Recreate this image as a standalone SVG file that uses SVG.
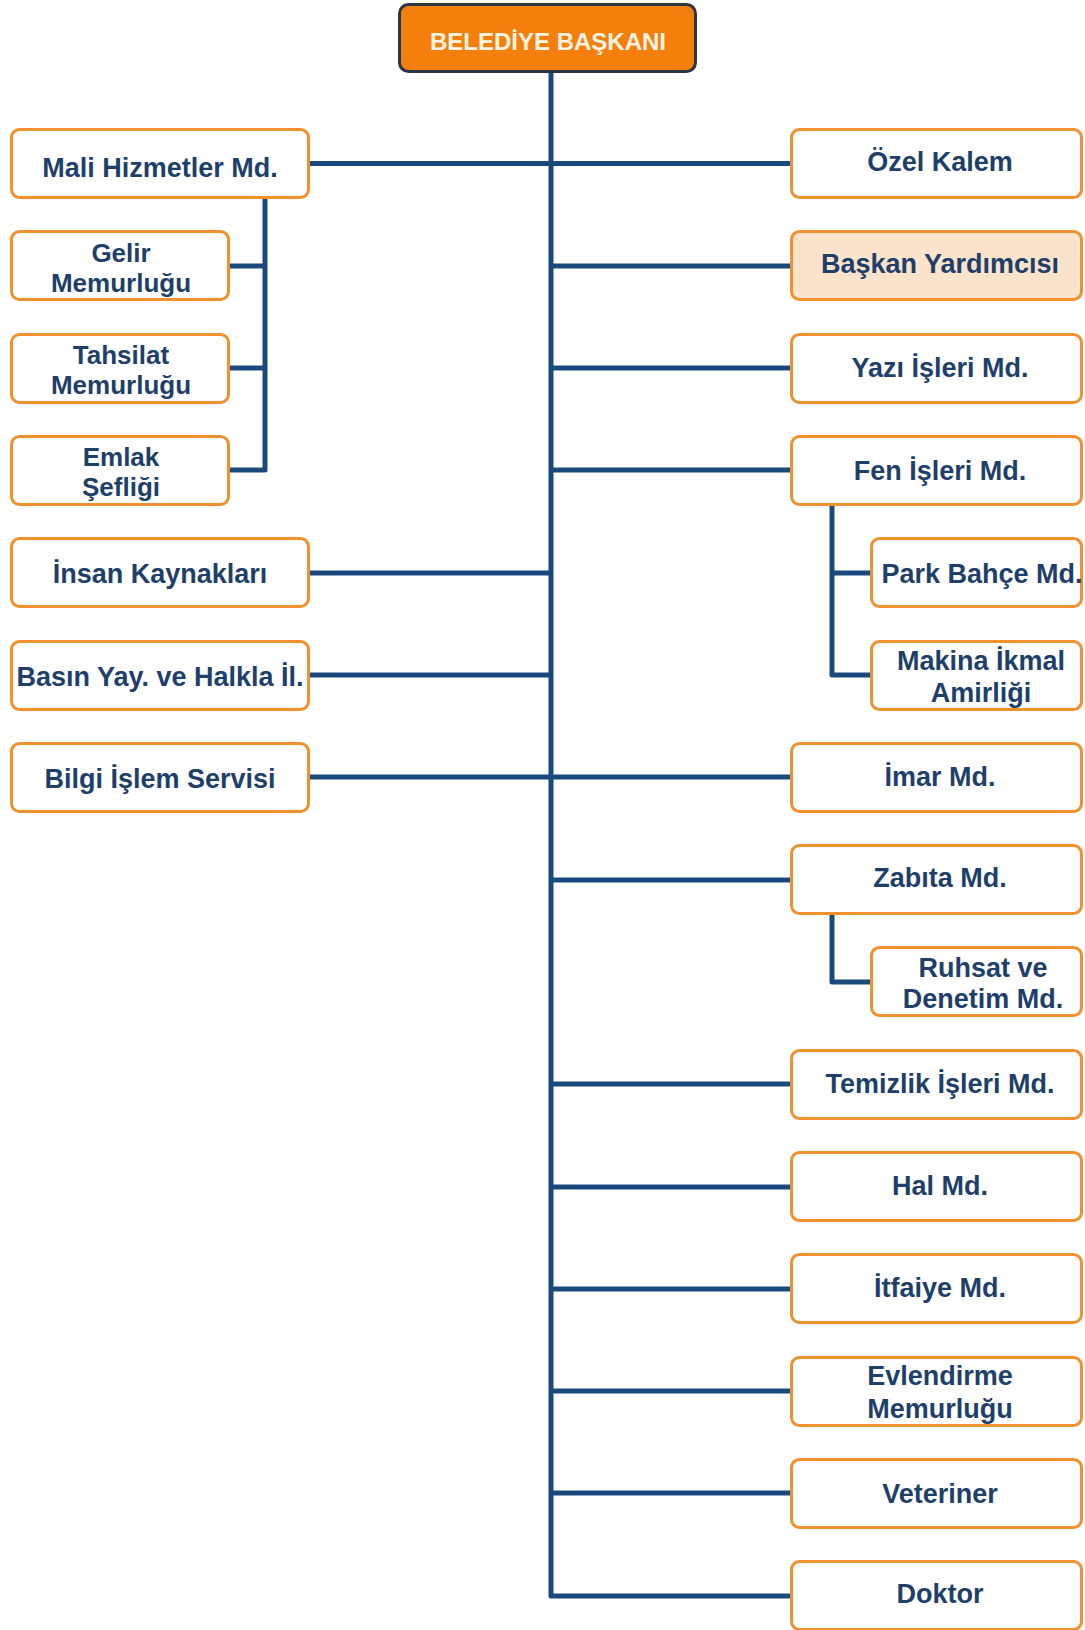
<svg xmlns="http://www.w3.org/2000/svg" width="1085" height="1630" viewBox="0 0 1085 1630">
<style>
.box{fill:#FFFFFF;stroke:#F0902E;stroke-width:3}
.hl{fill:#FCE3CB}
.t{font-family:"Liberation Sans",Arial,sans-serif;font-weight:bold;font-size:27px;fill:#1E3F69;text-anchor:middle}
.s{font-size:26px}
.conn{stroke:#1A4A7C;stroke-width:5;fill:none;stroke-linejoin:round}
.top rect{fill:#F57F0C;stroke:#2A3645;stroke-width:3}
.top text{font-family:"Liberation Sans",Arial,sans-serif;font-weight:bold;font-size:24px;fill:#FFF4E2;text-anchor:middle}
</style>
<rect x="0" y="0" width="1085" height="1630" fill="#FFFFFF"/>
<g id="connectors">
<path class="conn" d="M551,73 V1596 H790"/>
<path class="conn" d="M310,163.5 H790"/>
<path class="conn" d="M310,777 H790"/>
<path class="conn" d="M310,573 H551"/>
<path class="conn" d="M310,675 H551"/>
<path class="conn" d="M551,266 H790"/>
<path class="conn" d="M551,368 H790"/>
<path class="conn" d="M551,470 H790"/>
<path class="conn" d="M551,880 H790"/>
<path class="conn" d="M551,1084 H790"/>
<path class="conn" d="M551,1187 H790"/>
<path class="conn" d="M551,1289 H790"/>
<path class="conn" d="M551,1391 H790"/>
<path class="conn" d="M551,1493 H790"/>
<path class="conn" d="M265,199 V470 H230"/>
<path class="conn" d="M230,266 H265"/>
<path class="conn" d="M230,368 H265"/>
<path class="conn" d="M832,506 V675 H870"/>
<path class="conn" d="M832,573 H870"/>
<path class="conn" d="M832,915 V982 H870"/>
</g>
<g id="belediye-baskani" class="top">
<rect x="399.5" y="4.5" width="296" height="67" rx="9"/>
<text x="548" y="50">BELEDİYE BAŞKANI</text>
</g>
<g id="mali-hizmetler">
<rect class="box" x="11.5" y="129.5" width="297" height="68" rx="8"/>
<text class="t" x="160" y="177">Mali Hizmetler Md.</text>
</g>
<g id="gelir-memurlugu">
<rect class="box" x="11.5" y="231.5" width="217" height="68" rx="8"/>
<text class="t s" x="121" y="262">Gelir</text>
<text class="t s" x="121" y="292">Memurluğu</text>
</g>
<g id="tahsilat-memurlugu">
<rect class="box" x="11.5" y="334.5" width="217" height="68" rx="8"/>
<text class="t s" x="121" y="364">Tahsilat</text>
<text class="t s" x="121" y="394">Memurluğu</text>
</g>
<g id="emlak-sefligi">
<rect class="box" x="11.5" y="436.5" width="217" height="68" rx="8"/>
<text class="t s" x="121" y="466">Emlak</text>
<text class="t s" x="121" y="496">Şefliği</text>
</g>
<g id="insan-kaynaklari">
<rect class="box" x="11.5" y="538.5" width="297" height="68" rx="8"/>
<text class="t" x="160" y="583">İnsan Kaynakları</text>
</g>
<g id="basin-yayin">
<rect class="box" x="11.5" y="641.5" width="297" height="68" rx="8"/>
<text class="t" x="160" y="686">Basın Yay. ve Halkla İl.</text>
</g>
<g id="bilgi-islem">
<rect class="box" x="11.5" y="743.5" width="297" height="68" rx="8"/>
<text class="t" x="160" y="788">Bilgi İşlem Servisi</text>
</g>
<g id="ozel-kalem">
<rect class="box" x="791.5" y="129.5" width="290" height="68" rx="8"/>
<text class="t" x="940" y="171">Özel Kalem</text>
</g>
<g id="baskan-yardimcisi">
<rect class="box hl" x="791.5" y="231.5" width="290" height="68" rx="8"/>
<text class="t" x="940" y="273">Başkan Yardımcısı</text>
</g>
<g id="yazi-isleri">
<rect class="box" x="791.5" y="334.5" width="290" height="68" rx="8"/>
<text class="t" x="940" y="377">Yazı İşleri Md.</text>
</g>
<g id="fen-isleri">
<rect class="box" x="791.5" y="436.5" width="290" height="68" rx="8"/>
<text class="t" x="940" y="480">Fen İşleri Md.</text>
</g>
<g id="park-bahce">
<rect class="box" x="871.5" y="538.5" width="210" height="68" rx="8"/>
<text class="t" x="982" y="583">Park Bahçe Md.</text>
</g>
<g id="makina-ikmal">
<rect class="box" x="871.5" y="641.5" width="210" height="68" rx="8"/>
<text class="t" x="981" y="670">Makina İkmal</text>
<text class="t" x="981" y="702">Amirliği</text>
</g>
<g id="imar">
<rect class="box" x="791.5" y="743.5" width="290" height="68" rx="8"/>
<text class="t" x="940" y="786">İmar Md.</text>
</g>
<g id="zabita">
<rect class="box" x="791.5" y="845.5" width="290" height="68" rx="8"/>
<text class="t" x="940" y="887">Zabıta Md.</text>
</g>
<g id="ruhsat-denetim">
<rect class="box" x="871.5" y="947.5" width="210" height="68" rx="8"/>
<text class="t" x="983" y="977">Ruhsat ve</text>
<text class="t" x="983" y="1008">Denetim Md.</text>
</g>
<g id="temizlik-isleri">
<rect class="box" x="791.5" y="1050.5" width="290" height="68" rx="8"/>
<text class="t" x="940" y="1093">Temizlik İşleri Md.</text>
</g>
<g id="hal">
<rect class="box" x="791.5" y="1152.5" width="290" height="68" rx="8"/>
<text class="t" x="940" y="1195">Hal Md.</text>
</g>
<g id="itfaiye">
<rect class="box" x="791.5" y="1254.5" width="290" height="68" rx="8"/>
<text class="t" x="940" y="1297">İtfaiye Md.</text>
</g>
<g id="evlendirme">
<rect class="box" x="791.5" y="1357.5" width="290" height="68" rx="8"/>
<text class="t" x="940" y="1385">Evlendirme</text>
<text class="t" x="940" y="1418">Memurluğu</text>
</g>
<g id="veteriner">
<rect class="box" x="791.5" y="1459.5" width="290" height="68" rx="8"/>
<text class="t" x="940" y="1503">Veteriner</text>
</g>
<g id="doktor">
<rect class="box" x="791.5" y="1561.5" width="290" height="68" rx="8"/>
<text class="t" x="940" y="1603">Doktor</text>
</g>
</svg>
